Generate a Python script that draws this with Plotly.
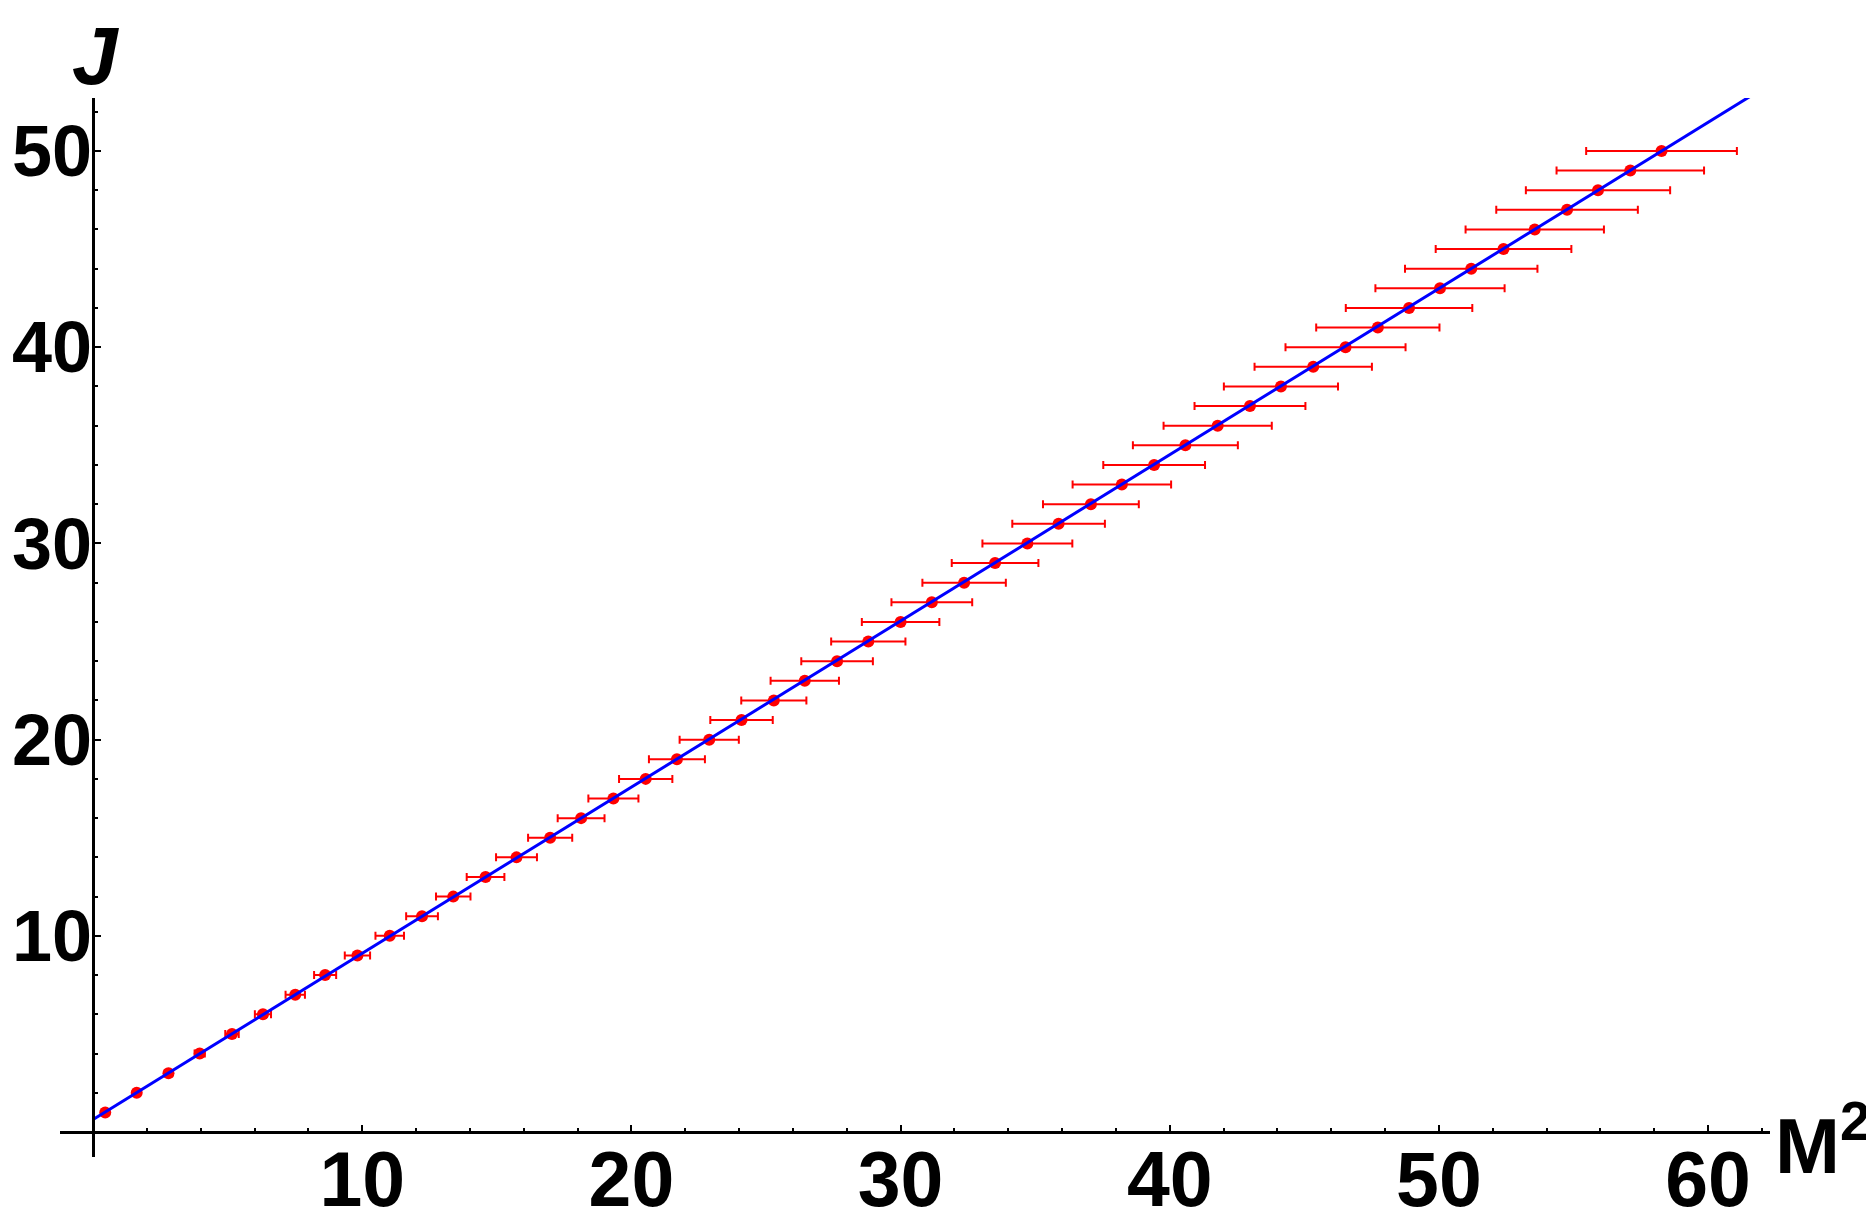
import plotly.graph_objects as go

# spin J and squared mass M^2
J = list(range(1, 51))
M2 = [0.45, 1.62, 2.80, 3.96, 5.16, 6.31, 7.51, 8.62, 9.82, 11.02,
      12.22, 13.38, 14.58, 15.73, 16.98, 18.13, 19.33, 20.53, 21.69, 22.89,
      24.09, 25.29, 26.44, 27.64, 28.80, 30.00, 31.16, 32.36, 33.51, 34.71,
      35.87, 37.07, 38.22, 39.42, 40.58, 41.78, 42.98, 44.13, 45.33, 46.53,
      47.73, 48.89, 50.04, 51.20, 52.40, 53.56, 54.76, 55.91, 57.11, 58.27]
M2_err = [0.03, 0.08, 0.14, 0.19, 0.25, 0.30, 0.36, 0.41, 0.47, 0.53,
          0.59, 0.64, 0.70, 0.76, 0.82, 0.87, 0.93, 0.99, 1.04, 1.10,
          1.16, 1.21, 1.27, 1.33, 1.38, 1.44, 1.50, 1.55, 1.61, 1.67,
          1.72, 1.78, 1.83, 1.89, 1.95, 2.01, 2.06, 2.12, 2.18, 2.23,
          2.29, 2.35, 2.40, 2.46, 2.52, 2.57, 2.63, 2.68, 2.74, 2.80]

# linear Regge fit J = a + b*M^2
fit_a = 0.64
fit_b = 0.847
fit_x = [0, 63]
fit_y = [fit_a + fit_b * x for x in fit_x]

x_ticks = [10, 20, 30, 40, 50, 60]
y_ticks = [10, 20, 30, 40, 50]

W, H = 1874, 1228
OFF = 8  # page body margin shifts the figure

x_range = [-1.23, 62.3]
y_range = [-1.27, 52.7]
x_dom = [(60 - OFF) / W, (1770 - OFF) / W]
y_dom = [1 - (1157 - OFF) / H, 1 - (98 - OFF) / H]

# axes cross at the origin
x_pos = y_dom[0] + (y_dom[1] - y_dom[0]) * (0 - y_range[0]) / (y_range[1] - y_range[0])
y_pos = x_dom[0] + (x_dom[1] - x_dom[0]) * (0 - x_range[0]) / (x_range[1] - x_range[0])

FONT = 'Liberation Sans, Arial, sans-serif'
xtick_font = dict(family=FONT, size=77, color='black', weight='bold')
ytick_font = dict(family=FONT, size=72, color='black', weight='bold')

fig = go.Figure()

fig.add_trace(go.Scatter(
    x=M2, y=J, mode='markers',
    marker=dict(color='#ff0000', size=12),
    error_x=dict(type='data', array=M2_err, color='#ff0000', thickness=2, width=4),
    showlegend=False,
))

fig.add_trace(go.Scatter(
    x=fit_x, y=fit_y, mode='lines',
    line=dict(color='#0000ff', width=3),
    showlegend=False,
))

fig.update_layout(
    width=W, height=H, autosize=False,
    margin=dict(l=0, r=0, t=0, b=0, pad=0),
    paper_bgcolor='white', plot_bgcolor='white',
    xaxis=dict(
        range=x_range, domain=x_dom, anchor='free', position=x_pos,
        automargin=False,
        showgrid=False, zeroline=False,
        showline=True, linecolor='black', linewidth=2.5,
        tickmode='array', tickvals=x_ticks,
        ticks='inside', ticklen=6, tickwidth=2, tickcolor='black',
        minor=dict(tickmode='linear', tick0=0, dtick=2, ticks='inside',
                   ticklen=3.5, tickwidth=2, tickcolor='black'),
        tickfont=xtick_font, ticklabelstandoff=-20,
    ),
    yaxis=dict(
        range=y_range, domain=y_dom, anchor='free', position=y_pos,
        automargin=False,
        showgrid=False, zeroline=False,
        showline=True, linecolor='black', linewidth=2.5,
        tickmode='array', tickvals=y_ticks,
        ticks='inside', ticklen=6, tickwidth=2, tickcolor='black',
        minor=dict(tickmode='linear', tick0=0, dtick=2, ticks='inside',
                   ticklen=3.5, tickwidth=2, tickcolor='black'),
        tickfont=ytick_font, ticklabelstandoff=-14,
    ),
    annotations=[
        dict(text='<i>J</i>', x=(95 - OFF) / W, y=1, xref='paper', yref='paper',
             showarrow=False, xanchor='center', yanchor='top',
             font=dict(family=FONT, size=82, color='black', weight='bold')),
        dict(text='M<sup>2</sup>', x=(1872 - OFF) / W, y=1 - (1140 - OFF) / H, xref='paper', yref='paper',
             showarrow=False, xanchor='right', yanchor='middle',
             font=dict(family=FONT, size=78, color='black', weight='bold')),
    ],
)

fig.write_html("out.html")
